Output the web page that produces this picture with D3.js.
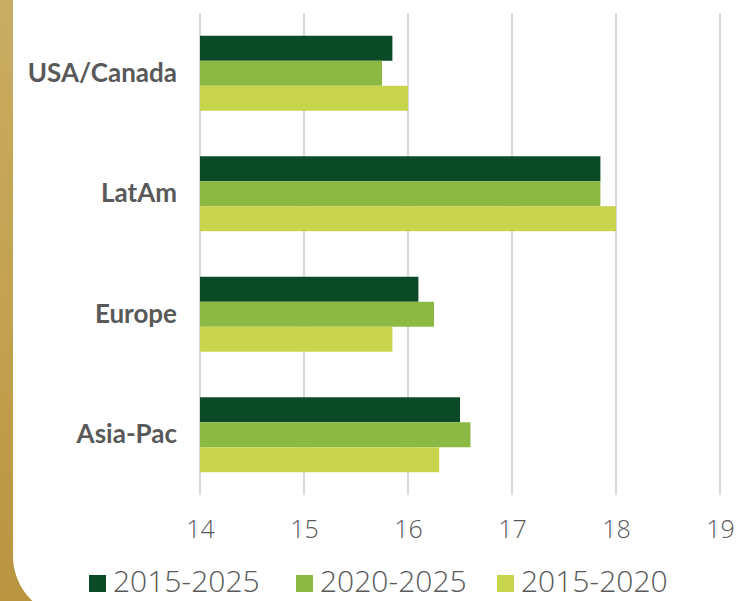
<!DOCTYPE html>
<html><head><meta charset="utf-8">
<script src="https://cdn.jsdelivr.net/npm/d3@7"></script>
<style>
html,body{margin:0;padding:0;background:#fff;}
svg{display:block;}
</style>
</head><body>
<svg id="chart" width="736" height="601"></svg>
<script>
const categories = ["USA/Canada", "LatAm", "Europe", "Asia-Pac"];
const seriesNames = ["2015-2025", "2020-2025", "2015-2020"];
const seriesColors = ["#0b4a27", "#8cb943", "#c9d44d"];
const values2015_2025 = [15.85, 17.85, 16.1, 16.5];
const values2020_2025 = [15.75, 17.85, 16.25, 16.6];
const values2015_2020 = [16.0, 18.0, 15.85, 16.3];
const tickValues = [14, 15, 16, 17, 18, 19];

const seriesValues = [values2015_2025, values2020_2025, values2015_2020];
const svg = d3.select("#chart");
const W = 736, H = 601;

// background: gold frame with white card
const defs = svg.append("defs");
const grad = defs.append("linearGradient").attr("id", "gold").attr("x1", 0).attr("y1", 0).attr("x2", 0.3).attr("y2", 1);
grad.append("stop").attr("offset", "0%").attr("stop-color", "#c9ad62");
grad.append("stop").attr("offset", "50%").attr("stop-color", "#c2a150");
grad.append("stop").attr("offset", "100%").attr("stop-color", "#b8923c");
svg.append("rect").attr("width", W).attr("height", H).attr("fill", "url(#gold)");
const cardX = 13, cardB = 618, r = 62;
svg.append("path")
  .attr("d", `M${cardX},0 H${W} V${H} H${W} V${cardB} H${cardX + r} A${r},${r} 0 0 1 ${cardX},${cardB - r} Z`)
  .attr("fill", "#fff");

const plotTop = 13, plotBottom = 495;
const x = d3.scaleLinear().domain([14, 19]).range([200, 720]);
const y = d3.scaleBand().domain(categories).range([plotTop, plotBottom]).paddingInner(0.378).paddingOuter(0.189);
const ySub = d3.scaleBand().domain(seriesNames).range([0, y.bandwidth()]);

// gridlines
svg.append("g").selectAll("line").data(tickValues).join("line")
  .attr("x1", d => x(d)).attr("x2", d => x(d))
  .attr("y1", plotTop).attr("y2", plotBottom)
  .attr("stroke", "#d9d9d9").attr("stroke-width", 2);

// bars
const groups = svg.append("g").selectAll("g").data(categories).join("g")
  .attr("transform", d => `translate(0,${y(d)})`);
groups.selectAll("rect").data((c, i) => seriesNames.map((s, j) => ({s, j, v: seriesValues[j][i]}))).join("rect")
  .attr("x", x(14))
  .attr("y", d => ySub(d.s))
  .attr("width", d => x(d.v) - x(14))
  .attr("height", ySub.bandwidth())
  .attr("fill", d => seriesColors[d.j]);

// category labels
svg.append("g").selectAll("text").data(categories).join("text")
  .attr("x", 177).attr("y", d => y(d) + y.bandwidth() / 2 + 8.5)
  .attr("text-anchor", "end")
  .attr("font-family", "Lato, 'Noto Sans', sans-serif")
  .attr("font-weight", "bold")
  .attr("font-size", 26)
  .attr("fill", "#595959")
  .text(d => d);

// x axis
const xAxis = svg.append("g").attr("transform", `translate(0,${plotBottom})`)
  .call(d3.axisBottom(x).tickValues(tickValues).tickSize(0).tickPadding(25).tickFormat(d3.format("d")));
xAxis.select(".domain").remove();
xAxis.selectAll("text")
  .attr("font-family", "'Open Sans', Lato, sans-serif")
  .attr("font-weight", 300)
  .attr("font-size", 25)
  .attr("fill", "#595959");

// legend
const legendX = [89, 296, 497];
const legend = svg.append("g").selectAll("g").data(seriesNames).join("g")
  .attr("transform", (d, i) => `translate(${legendX[i]},575)`);
legend.append("rect").attr("width", 17).attr("height", 17).attr("fill", (d, i) => seriesColors[i]);
legend.append("text").attr("x", 24).attr("y", 17)
  .attr("font-family", "'Open Sans', Lato, sans-serif")
  .attr("font-weight", 300)
  .attr("font-size", 30)
  .attr("fill", "#595959")
  .text(d => d);
</script>
</body></html>
